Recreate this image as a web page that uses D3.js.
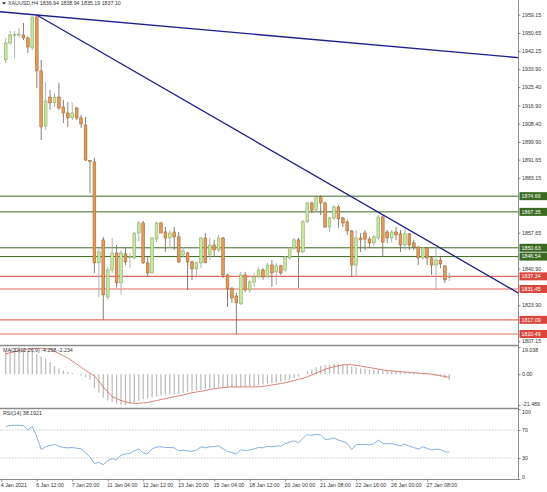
<!DOCTYPE html>
<html>
<head>
<meta charset="utf-8">
<script src="https://cdn.jsdelivr.net/npm/d3@7"></script>
<style>
  body { margin: 0; background: #fff; }
  svg { display: block; font-family: "Liberation Sans", Arial, sans-serif; }
</style>
</head>
<body>
<script>
"use strict";

// XAUUSD H4 candles: [open, high, low, close]
const candles = [
  [1938.1, 1948.3, 1936.7, 1946.0], [1946.0, 1951.6, 1945.1, 1949.7], [1949.6, 1951.6, 1939.0, 1949.9],
  [1950.0, 1953.0, 1948.3, 1950.1], [1949.7, 1955.3, 1947.4, 1948.3], [1948.3, 1949.2, 1941.3, 1944.1],
  [1943.7, 1958.2, 1942.7, 1958.1], [1958.1, 1959.0, 1925.0, 1933.0], [1933.0, 1938.1, 1900.8, 1906.9],
  [1907.3, 1927.8, 1905.5, 1919.0], [1920.8, 1924.1, 1914.8, 1918.1], [1918.1, 1922.7, 1916.2, 1920.8],
  [1920.8, 1927.4, 1914.8, 1915.7], [1916.2, 1919.5, 1908.7, 1913.4], [1913.4, 1918.5, 1906.9, 1911.1],
  [1911.1, 1918.1, 1910.1, 1913.4], [1915.7, 1916.2, 1910.1, 1911.1], [1911.1, 1912.5, 1906.4, 1908.3],
  [1907.8, 1911.5, 1891.0, 1891.5], [1891.2, 1891.5, 1876.2, 1891.0], [1890.6, 1892.5, 1838.9, 1843.6],
  [1843.6, 1850.6, 1827.7, 1848.7], [1854.3, 1855.7, 1817.0, 1828.7], [1827.7, 1841.7, 1826.4, 1840.3],
  [1840.3, 1855.2, 1838.9, 1848.2], [1848.2, 1852.0, 1832.0, 1834.3], [1834.3, 1849.6, 1828.7, 1848.2],
  [1847.8, 1850.6, 1842.6, 1844.0], [1846.4, 1848.2, 1841.2, 1846.5], [1845.9, 1858.0, 1845.0, 1857.5],
  [1857.5, 1863.1, 1853.3, 1862.2], [1862.2, 1863.1, 1843.1, 1843.6], [1843.6, 1846.4, 1837.1, 1838.9],
  [1838.9, 1855.7, 1838.9, 1855.2], [1854.7, 1862.7, 1853.3, 1862.2], [1862.2, 1862.7, 1857.5, 1857.5],
  [1858.0, 1860.3, 1848.7, 1855.2], [1855.2, 1858.9, 1850.6, 1857.5], [1858.0, 1860.3, 1849.6, 1855.7],
  [1855.7, 1858.0, 1843.6, 1844.0], [1847.3, 1851.0, 1846.4, 1849.2], [1848.2, 1848.7, 1831.0, 1844.0],
  [1844.0, 1844.9, 1835.7, 1840.8], [1840.8, 1844.0, 1836.6, 1843.6], [1843.6, 1855.7, 1841.2, 1855.2],
  [1855.2, 1857.5, 1843.6, 1843.6], [1847.3, 1855.2, 1845.0, 1851.9], [1851.9, 1854.3, 1846.4, 1849.6],
  [1849.6, 1856.6, 1848.7, 1855.2], [1855.2, 1855.7, 1836.6, 1838.0], [1838.0, 1838.5, 1823.1, 1831.5],
  [1831.5, 1832.4, 1825.0, 1827.3], [1828.2, 1829.6, 1810.3, 1825.0], [1824.5, 1839.4, 1824.0, 1838.0],
  [1838.0, 1839.4, 1830.1, 1831.0], [1831.0, 1835.7, 1829.6, 1834.7], [1834.7, 1838.9, 1832.4, 1837.1],
  [1837.1, 1841.7, 1836.6, 1840.3], [1840.3, 1841.2, 1835.7, 1837.1], [1837.1, 1843.6, 1836.6, 1842.6],
  [1842.6, 1844.9, 1832.4, 1838.9], [1839.4, 1843.6, 1833.3, 1842.2], [1842.2, 1842.6, 1838.0, 1838.9],
  [1840.3, 1846.8, 1839.4, 1846.4], [1845.9, 1851.0, 1845.0, 1850.6], [1850.6, 1855.2, 1849.6, 1854.3],
  [1854.3, 1855.2, 1831.9, 1848.7], [1848.7, 1863.6, 1848.2, 1862.7], [1862.7, 1872.0, 1862.2, 1871.5],
  [1871.5, 1872.0, 1866.8, 1868.2], [1868.2, 1875.2, 1867.3, 1874.3], [1874.3, 1875.2, 1865.9, 1871.5],
  [1871.5, 1872.0, 1859.9, 1860.3], [1860.3, 1865.0, 1858.0, 1864.5], [1864.5, 1870.6, 1863.6, 1869.6],
  [1869.6, 1870.6, 1859.9, 1864.1], [1864.5, 1865.0, 1860.3, 1862.2], [1862.7, 1863.6, 1856.6, 1858.5],
  [1858.5, 1858.9, 1837.1, 1842.6], [1842.6, 1858.9, 1837.1, 1855.2], [1855.2, 1857.5, 1848.7, 1854.3],
  [1857.5, 1858.9, 1849.6, 1854.7], [1854.7, 1855.7, 1850.6, 1852.9], [1852.9, 1856.6, 1851.5, 1855.7],
  [1855.2, 1865.9, 1854.3, 1865.0], [1865.0, 1865.9, 1846.4, 1853.3], [1858.0, 1858.9, 1852.9, 1855.2],
  [1855.2, 1858.9, 1853.3, 1858.0], [1858.0, 1860.3, 1854.3, 1856.6], [1857.1, 1858.9, 1848.7, 1851.9],
  [1851.9, 1859.9, 1849.6, 1857.1], [1857.1, 1857.5, 1849.6, 1851.9], [1852.9, 1854.3, 1849.6, 1851.0],
  [1851.0, 1851.5, 1842.6, 1845.9], [1845.9, 1851.0, 1845.0, 1850.6], [1850.6, 1851.0, 1842.6, 1845.9],
  [1845.9, 1846.4, 1838.0, 1842.6], [1842.6, 1850.6, 1831.0, 1844.9], [1844.9, 1846.4, 1841.2, 1843.1],
  [1842.2, 1842.6, 1834.3, 1835.7], [1836.94, 1838.94, 1835.19, 1837.10]
];

// MACD(12,26,9) main (histogram) and signal
const macdMain = [
  16.0, 17.5, 18.2, 19.0, 18.4, 17.0, 16.5, 14.2, 12.4, 10.9,
  8.3, 5.7, 3.9, 2.6, 1.6, 0.8, 0.0, -0.8, -2.1, -3.9,
  -9.8, -12.9, -16.2, -18.4, -19.5, -20.6, -21.4, -21.489, -20.6, -19.8,
  -18.6, -17.5, -16.8, -16.0, -15.5, -15.0, -14.5, -14.2, -14.0, -13.7,
  -12.9, -12.4, -11.9, -11.4, -10.9, -10.3, -9.8, -9.6, -9.3, -9.0,
  -9.0, -9.0, -9.3, -9.0, -8.8, -8.5, -8.3, -7.8, -7.2, -6.7,
  -6.2, -5.7, -5.2, -4.4, -3.6, -2.6, -1.8, 0.0, 2.1, 3.4,
  4.9, 5.9, 6.5, 6.7, 7.0, 7.0, 6.7, 6.5, 5.4, 4.7,
  4.1, 3.6, 3.1, 3.1, 3.1, 2.6, 2.3, 2.3, 2.1, 2.1,
  1.8, 1.6, 1.3, 1.0, 0.8, 0.5, 0.0, -0.8, -1.8, -2.6,
  -4.258
];
const macdSignal = [
  14.2, 15.0, 15.8, 16.5, 17.1, 17.6, 17.8, 18.1, 18.1, 17.8,
  17.3, 16.0, 14.5, 12.9, 11.4, 9.3, 7.2, 4.9, 2.6, 0.8,
  -1.3, -4.7, -9.0, -12.4, -15.6, -17.0, -18.4, -19.3, -20.0, -20.3,
  -20.3, -20.0, -19.8, -19.0, -18.4, -17.7, -17.0, -16.4, -15.6, -15.2,
  -14.5, -13.7, -12.9, -12.4, -11.9, -11.4, -10.6, -10.1, -9.8, -9.3,
  -9.0, -8.8, -8.8, -8.8, -8.8, -8.8, -8.8, -8.8, -8.5, -8.0,
  -7.5, -7.0, -6.5, -5.9, -5.2, -4.4, -3.6, -2.8, -1.8, -0.5,
  0.8, 2.1, 3.4, 4.4, 5.2, 5.9, 6.5, 6.7, 6.7, 6.2,
  5.7, 5.2, 4.7, 4.1, 3.6, 3.1, 2.6, 2.3, 2.1, 1.8,
  1.6, 1.3, 1.0, 0.8, 0.5, 0.3, 0.0, -0.5, -1.0, -1.6,
  -2.234
];

// RSI(14)
const rsi = [
  74.8, 76.3, 76.7, 76.7, 76.3, 70.0, 74.8, 60.4, 42.1, 46.0,
  47.9, 49.3, 46.9, 45.0, 44.5, 45.0, 44.0, 43.1, 37.3, 31.5,
  21.9, 23.8, 20.5, 26.3, 29.1, 27.7, 33.9, 35.9, 36.3, 40.2,
  43.1, 37.3, 36.3, 43.1, 45.5, 46.0, 45.0, 45.0, 44.5, 40.2,
  41.2, 40.2, 39.7, 41.2, 46.0, 44.5, 46.0, 46.4, 47.4, 43.1,
  39.2, 37.8, 35.4, 42.1, 40.2, 41.6, 43.1, 45.0, 44.5, 46.9,
  46.0, 47.4, 46.9, 50.3, 52.7, 54.6, 51.7, 58.0, 63.3, 62.3,
  63.8, 62.8, 56.5, 57.0, 58.5, 55.6, 53.7, 50.8, 42.1, 49.3,
  49.3, 49.3, 48.8, 50.3, 55.6, 50.8, 50.3, 50.8, 48.8, 47.4,
  49.8, 46.9, 45.0, 42.6, 46.0, 43.6, 41.6, 42.6, 42.1, 38.8,
  38.19
];

// horizontal levels
const greenLevels = [1874.66, 1867.35, 1850.63, 1846.54];
const redLevels = [1837.34, 1831.45, 1817.09, 1810.49];

// trend lines: [bar index, price] anchors
const trendLines = [
  { a: [7, 1959.0], b: [115.3, 1939.2], extendLeft: true },
  { a: [7, 1959.0], b: [115.3, 1829.9], extendLeft: false }
];

// axis ticks (the ones left visible beside the level boxes)
const priceTicks = [1959.15, 1950.65, 1942.15, 1933.90, 1925.40, 1916.90, 1908.40, 1899.90,
  1891.65, 1883.15, 1857.65, 1840.90, 1823.90, 1807.15];
const macdTicks = [19.038, 0, -21.489];
const rsiTicks = [100, 70, 30, 0];
const timeTickBars = [-1, 7, 15, 23, 31, 39, 47, 55, 63, 71, 79, 87, 95];
const timeLabels = ["4 Jan 2021", "6 Jan 12:00", "7 Jan 20:00", "11 Jan 04:00", "12 Jan 12:00",
  "13 Jan 20:00", "15 Jan 04:00", "18 Jan 12:00", "20 Jan 00:00", "21 Jan 08:00",
  "22 Jan 16:00", "26 Jan 00:00", "27 Jan 08:00"];

const W = 547, H = 492;
const axisX = 518.5;
const fontSize = 5.3;

const svg = d3.select("body").append("svg")
    .attr("width", W)
    .attr("height", H);

const x = d3.scaleLinear().domain([0, candles.length - 1]).range([5.7, 449.3]);
const y = d3.scaleLinear().domain([1810.49, 1959.15]).range([334, 14.7]);
const yMacd = d3.scaleLinear().domain([-21.489, 19.038]).range([405, 347]);
const yRsi = d3.scaleLinear().domain([0, 100]).range([479, 409]);

let defs = svg.append("defs");
defs.append("clipPath").attr("id", "clipMain")
  .append("rect").attr("x", 0).attr("y", 0).attr("width", axisX).attr("height", 345);

// ---- main panel ----
let main = svg.append("g").attr("clip-path", "url(#clipMain)");

main.selectAll("line.green").data(greenLevels).enter().append("line")
    .attr("x1", 0).attr("x2", axisX)
    .attr("y1", d => y(d)).attr("y2", d => y(d))
    .attr("stroke", "#3b6a22").attr("stroke-width", 1);

main.selectAll("line.red").data(redLevels).enter().append("line")
    .attr("x1", 0).attr("x2", axisX)
    .attr("y1", d => y(d)).attr("y2", d => y(d))
    .attr("stroke", "#e2685c").attr("stroke-width", 1.2);

let candle = main.selectAll("g.candle").data(candles).enter().append("g");
candle.append("line")
    .attr("x1", (d, i) => x(i)).attr("x2", (d, i) => x(i))
    .attr("y1", d => y(d[1])).attr("y2", d => y(d[2]))
    .attr("stroke", d => d[3] >= d[0] ? "#a9a9a9" : "#7d6f62")
    .attr("stroke-width", 0.9);
candle.append("rect")
    .attr("x", (d, i) => x(i) - 1.4)
    .attr("width", 2.8)
    .attr("y", d => y(Math.max(d[0], d[3])))
    .attr("height", d => Math.max(0.8, Math.abs(y(d[0]) - y(d[3]))))
    .attr("fill", d => d[3] >= d[0] ? "#c6e89e" : "#e39a57")
    .attr("stroke", d => d[3] >= d[0] ? "#7f9e5a" : "#9a5d2a")
    .attr("stroke-width", 0.5);

for (let t of trendLines) {
  let xa = x(t.a[0]), ya = y(t.a[1]);
  let xb = x(t.b[0]), yb = y(t.b[1]);
  let slope = (yb - ya) / (xb - xa);
  let x1 = t.extendLeft ? 0 : xa;
  main.append("line")
      .attr("x1", x1).attr("y1", ya + (x1 - xa) * slope)
      .attr("x2", axisX).attr("y2", ya + (axisX - xa) * slope)
      .attr("stroke", "#1c1f8c").attr("stroke-width", 1.3);
}

// title
svg.append("path").attr("d", "M2,2.2 L6,2.2 L4,4.8 Z").attr("fill", "#333");
svg.append("text").attr("x", 8).attr("y", 5.2)
    .attr("font-size", fontSize).attr("fill", "#333")
    .text("XAUUSD,H4  1836.94 1838.94 1835.19 1837.10");

// ---- MACD panel ----
svg.append("g").selectAll("line").data(macdMain).enter().append("line")
    .attr("x1", (d, i) => x(i)).attr("x2", (d, i) => x(i))
    .attr("y1", yMacd(0)).attr("y2", d => yMacd(d))
    .attr("stroke", "#bdbdbd").attr("stroke-width", 1.3);

svg.append("path")
    .datum(macdSignal)
    .attr("fill", "none")
    .attr("stroke", "#db6f66")
    .attr("stroke-width", 0.9)
    .attr("d", d3.line().x((d, i) => x(i)).y(d => yMacd(d)));

svg.append("text").attr("x", 3).attr("y", 352)
    .attr("font-size", fontSize).attr("fill", "#333")
    .text("MACD(12,26,9) -4.258 -2.234");

// ---- RSI panel ----
svg.selectAll("line.rsiLevel").data([70, 30]).enter().append("line")
    .attr("x1", 0).attr("x2", axisX)
    .attr("y1", d => yRsi(d)).attr("y2", d => yRsi(d))
    .attr("stroke", "#b5b5b5").attr("stroke-width", 0.7)
    .attr("stroke-dasharray", "1.5,1.5");

svg.append("path")
    .datum(rsi)
    .attr("fill", "none")
    .attr("stroke", "#79a6df")
    .attr("stroke-width", 0.9)
    .attr("d", d3.line().x((d, i) => x(i)).y(d => yRsi(d)));

svg.append("text").attr("x", 3).attr("y", 415)
    .attr("font-size", fontSize).attr("fill", "#333")
    .text("RSI(14) 38.1921");

// ---- frame ----
const frame = "#8c8c8c";
svg.append("line").attr("x1", axisX).attr("x2", axisX).attr("y1", 0).attr("y2", 479.5)
    .attr("stroke", frame).attr("stroke-width", 1);
for (let yy of [345.5, 408.5]) {
  svg.append("line").attr("x1", 0).attr("x2", axisX).attr("y1", yy).attr("y2", yy)
      .attr("stroke", "#8a8a8a").attr("stroke-width", 1.6);
}
svg.append("line").attr("x1", 0).attr("x2", axisX).attr("y1", 479.5).attr("y2", 479.5)
    .attr("stroke", frame).attr("stroke-width", 1);

function styleAxis(g) {
  g.select(".domain").remove();
  g.selectAll(".tick line").attr("stroke", "#555").attr("stroke-width", 0.7);
  g.selectAll(".tick text").attr("font-size", fontSize).attr("fill", "#333")
      .attr("font-family", "Liberation Sans, Arial, sans-serif");
}

svg.append("g").attr("transform", `translate(${axisX},0)`)
    .call(d3.axisRight(y).tickValues(priceTicks).tickSize(2).tickPadding(1.5)
      .tickFormat(d => d.toFixed(2)))
    .call(styleAxis);

svg.append("g").attr("transform", `translate(${axisX},0)`)
    .call(d3.axisRight(yMacd).tickValues(macdTicks).tickSize(2).tickPadding(1.5)
      .tickFormat(d => d === 0 ? "0.00" : d.toFixed(3)))
    .call(styleAxis)
    .call(g => g.selectAll(".tick text").attr("dy", d => d > 0 ? "0.9em" : (d < 0 ? "0em" : "0.32em")));

svg.append("g").attr("transform", `translate(${axisX},0)`)
    .call(d3.axisRight(yRsi).tickValues(rsiTicks).tickSize(2).tickPadding(1.5)
      .tickFormat(d3.format("d")))
    .call(styleAxis)
    .call(g => g.selectAll(".tick text").attr("dy", d => d === 100 ? "0.9em" : (d === 0 ? "-0.1em" : "0.32em")));

svg.append("g").attr("transform", "translate(0,479.5)")
    .call(d3.axisBottom(x).tickValues(timeTickBars).tickSize(2).tickPadding(2)
      .tickFormat((d, i) => timeLabels[i]))
    .call(styleAxis)
    .call(g => g.selectAll(".tick text").attr("text-anchor", "start").attr("dx", "-0.2em"));

// ---- level labels on price axis ----
function levelBoxes(levels, fill) {
  let g = svg.append("g").selectAll("g").data(levels).enter().append("g")
      .attr("transform", d => `translate(${axisX + 1},${y(d)})`);
  g.append("rect").attr("x", 0).attr("y", -4).attr("width", W - axisX).attr("height", 8)
      .attr("fill", fill);
  g.append("text").attr("x", 2).attr("y", 0).attr("dy", "0.35em")
      .attr("font-size", fontSize).attr("fill", "#fff")
      .text(d => d.toFixed(2));
}
levelBoxes(greenLevels, "#3a6a22");
levelBoxes(redLevels, "#d9473c");
</script>
</body>
</html>
